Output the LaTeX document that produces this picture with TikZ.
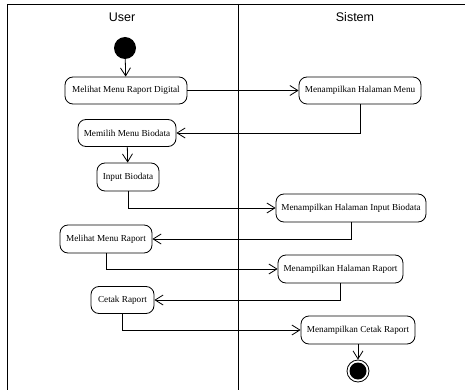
\documentclass[tikz,border=0pt]{standalone}
\usepackage{fontspec}
\setmainfont{Liberation Serif}
\newfontfamily\headfont{Liberation Sans}
\usetikzlibrary{arrows.meta}
\tikzset{
  act/.style={draw, line width=0.8pt, rounded corners=8pt, minimum height=27pt,
    inner sep=1pt, font=\fontsize{9.2}{11}\selectfont, align=center},
  arr/.style={draw, line width=0.8pt, -{Straight Barb[length=8pt,width=10pt,line width=0.8pt]}},
  lane/.style={line width=0.9pt},
  head/.style={font=\headfont\fontsize{12.5}{14}\selectfont}
}
\begin{document}
\begin{tikzpicture}[x=1pt,y=-1pt]
\useasboundingbox (0,0) rectangle (465,390);
% swimlane frame
\draw[lane] (7,390) -- (7,4) -- (465,4);
\draw[lane] (238,4) -- (238,390);
\node[head] (hu) at (122,17) {User};
\node[head] (hs) at (355,17) {Sistem};
% start / end
\node[circle, fill=black, minimum size=22pt, inner sep=0pt] (start) at (125,48) {};
\node[act, minimum width=122pt] (n1) at (126,90.5) {Melihat Menu Raport Digital};
\node[act, minimum width=122pt] (n2) at (360,90.5) {Menampilkan Halaman Menu};
\node[act, minimum width=98pt] (n3) at (127,133) {Memilih Menu Biodata};
\node[act, minimum width=62pt, minimum height=28pt] (n4) at (128,177) {Input Biodata};
\node[act, minimum width=150pt, minimum height=28pt] (n5) at (351,208) {Menampilkan Halaman Input Biodata};
\node[act, minimum width=92pt, minimum height=28pt] (n6) at (106,239) {Melihat Menu Raport};
\node[act, minimum width=125pt, minimum height=28pt] (n7) at (340.5,269) {Menampilkan Halaman Raport};
\node[act, minimum width=63pt] (n8) at (122.5,300) {Cetak Raport};
\node[act, minimum width=114pt, minimum height=28pt] (n9) at (358,330) {Menampilkan Cetak Raport};
\node[circle, draw, line width=0.8pt, minimum size=22pt, inner sep=0pt] (endo) at (358,371) {};
\node[circle, fill=black, minimum size=17pt, inner sep=0pt] (endi) at (358,371) {};
% flows
\draw[arr] (start) -- (n1);
\draw[arr] (n1) -- (n2);
\draw[arr] (n2.south) |- (n3.east);
\draw[arr] (n3) -- (n4);
\draw[arr] (n4.south) |- (n5.west);
\draw[arr] (n5.south) |- (n6.east);
\draw[arr] (n6.south) |- (n7.west);
\draw[arr] (n7.south) |- (n8.east);
\draw[arr] (n8.south) |- (n9.west);
\draw[arr] (n9) -- (endo);
\end{tikzpicture}
\end{document}
